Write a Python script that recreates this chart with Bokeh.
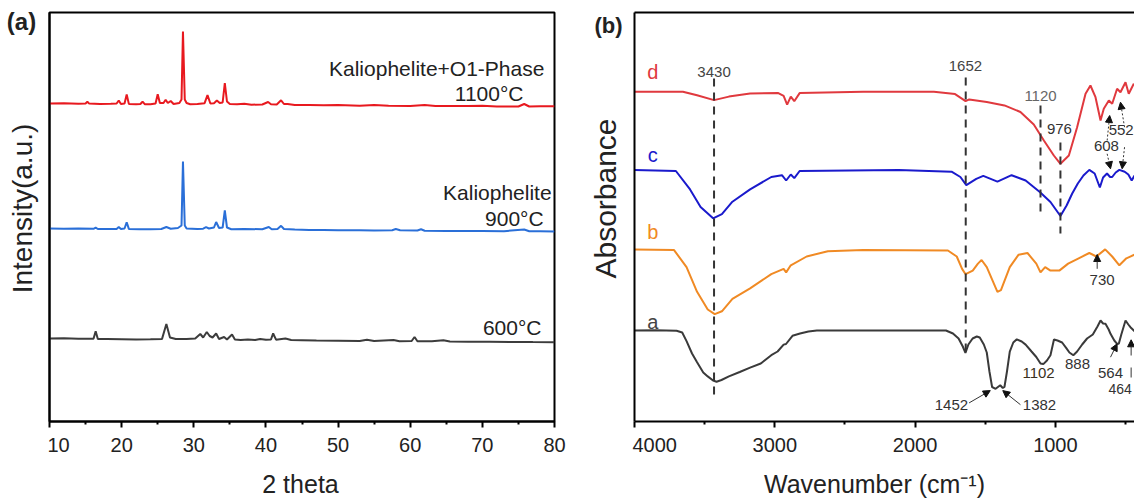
from bokeh.plotting import figure
from bokeh.layouts import row, column
from bokeh.models import Label, Arrow, NormalHead, FixedTicker, LinearAxis, Range1d
from bokeh.embed import file_html
from bokeh.resources import INLINE

# ---------------- data: panel (a) XRD ----------------
xrd_2theta_1100 = [10.0, 12.0, 14.0, 15.0, 15.25, 15.5, 17.0, 18.5, 19.3, 19.6, 19.9, 20.4, 20.7, 21.0, 22.0, 22.6,
                   22.9, 23.2, 24.0, 24.7, 25.0, 25.3, 25.8, 26.1, 26.4, 26.8, 27.2, 28.0, 28.3, 28.5, 28.75, 29.0,
                   29.5, 30.5, 31.5, 31.9, 32.3, 32.8, 33.2, 33.6, 34.0, 34.3, 34.6, 35.0, 36.0, 37.0, 38.0, 39.5,
                   40.3, 40.7, 41.5, 42.1, 42.5, 43.0, 44.0, 46.0, 48.0, 50.0, 53.0, 55.0, 57.0, 60.0, 62.0, 63.5,
                   66.0, 68.0, 70.0, 72.0, 75.0, 75.8, 76.5, 78.0, 80.0]
xrd_int_1100 = [318, 318.3, 317.8, 318, 319.7, 317.9, 317.5, 317.8, 318, 321, 317.5, 318, 327, 317.6, 317.3, 317.5,
                319.8, 317.3, 317.2, 318, 327.2, 318.5, 318.5, 321.7, 318.5, 320.5, 317.5, 318.5, 322, 390, 322, 318.5,
                317.3, 317.5, 318.3, 326.3, 318, 318.3, 321, 318.5, 319, 338.5, 320, 317.5, 317.3, 317.8, 316.8, 317,
                319.5, 317.3, 317, 321.2, 317.5, 317.6, 316.5, 316.6, 316.2, 316.4, 315.7, 316.6, 315.8, 315.6, 316.4, 315.6,
                315.5, 315.4, 315.8, 315.1, 315, 317.5, 315, 315.2, 315.3]

xrd_2theta_900 = [10, 12, 14, 16.1, 16.4, 16.7, 18.5, 19.3, 19.6, 19.9, 20.4, 20.7, 21.0, 22.5, 24, 25.5, 26.2, 26.8,
                  27.8, 28.3, 28.5, 28.75, 29.0, 30.5, 31.3, 31.7, 32.1, 32.8, 33.1, 33.5, 34.0, 34.3, 34.6, 35.2, 37,
                  39.5, 40.4, 40.8, 41.6, 42.1, 42.5, 44, 46, 48, 50, 53, 55, 57.5, 58, 58.6, 61.0, 61.5, 62.0, 65, 68,
                  70, 73, 75.8, 76.5, 78, 80]
xrd_int_900 = [193, 192.8, 193, 192.7, 193.8, 192.5, 192.6, 192.6, 194.5, 192.5, 193, 199.3, 192.6, 192.3, 192.3, 192.5,
               194.5, 192.8, 193.5, 196, 260, 196, 193, 192.5, 192.8, 194.3, 193, 194, 199.5, 193.5, 194, 211, 194, 192.3,
               192.5, 192.3, 194.5, 192.2, 192.5, 195.7, 192.5, 192, 191.6, 191.6, 191.3, 191.2, 191, 191.3, 192.5,
               191.2, 191, 192.2, 190.8, 190.6, 190.4, 190.5, 190.3, 192, 190.2, 190.2, 190]

xrd_2theta_600 = [10, 12, 14, 16.1, 16.4, 16.7, 18, 20, 22, 24, 25.6, 26.2, 26.7, 27.5, 29, 30.2, 30.9, 31.3, 31.8,
                  32.2, 32.6, 33.1, 33.5, 34.2, 34.6, 35.3, 35.7, 36.5, 37.5, 38.5, 39.2, 40.0, 40.7, 41.0, 41.4, 42.7,
                  43.5, 45, 47, 50, 53, 54, 55, 57.7, 58.5, 60.2, 60.6, 61, 63, 64.6, 65.5, 68, 71, 74, 77, 80]
xrd_int_600 = [83, 83.2, 82.8, 82.7, 90.3, 82.6, 82.5, 82.3, 82.1, 82.3, 82.6, 97.5, 84, 82.5, 82.6, 83, 87.5, 84, 89.5,
               85.5, 84, 88, 82.5, 84.5, 82, 87, 82, 81.5, 82, 81.5, 82.5, 81.8, 82, 88.2, 81.8, 83,
               81.5, 81.3, 81, 80.8, 80.6, 81.8, 80.4, 81.5, 80.3, 80.5, 84.5, 80.3, 80.2, 81.2, 80, 79.8, 79.7, 79.6, 79.4, 79.3]

xrd_ticks = [10, 20, 30, 40, 50, 60, 70, 80]
xrd_minor = [15, 25, 35, 45, 55, 65, 75]

# ---------------- data: panel (b) FTIR ----------------
wn_d = [4000, 3655, 3554, 3433, 3327, 3176, 2975, 2937, 2912, 2886, 2861, 2823, 2370, 1866, 1715, 1640, 1614, 1489,
        1363, 1249, 1154, 1082, 1011, 964, 904, 845, 785, 750, 714, 678, 655, 619, 595, 560, 536, 500, 477, 441, 436]
abs_d = [329.8, 329.8, 326.3, 321.4, 324.9, 328.1, 328.4, 325.6, 316.8, 324.9, 320.3, 328.4, 329.8, 329.8, 327.4, 320.3,
         322.1, 319.6, 316.1, 309.5, 297, 281, 266, 257.7, 266, 294.3, 327.7, 336, 324.3, 301, 312.7, 321, 317.7,
         332.7, 329.3, 339.3, 327.7, 337.7, 336]

wn_c = [4000, 3705, 3604, 3529, 3440, 3377, 3302, 3176, 3025, 2949, 2919, 2886, 2861, 2823, 2118, 1740, 1677, 1635,
        1564, 1514, 1413, 1312, 1212, 1111, 1035, 964, 920, 880, 840, 800, 758, 720, 683, 660, 632, 610, 595, 570,
        544, 506, 480, 456, 436]
abs_c = [251.6, 250.5, 232.1, 214.5, 203.2, 207.4, 219.8, 232.1, 244.5, 246.3, 241, 247, 243.4, 250.5, 251.6, 249.8,
         244.5, 236.4, 242.7, 245.6, 239.9, 246.3, 241, 229.5, 219.5, 205.5, 216, 228, 238, 246, 251.6, 248, 234, 244,
         248, 244.5, 244.5, 249, 251.6, 249.8, 247, 241, 246]

wn_b = [4000, 3718, 3629, 3554, 3478, 3428, 3377, 3302, 3176, 3025, 2937, 2919, 2886, 2773, 2622, 2370, 1766, 1703,
        1665, 1640, 1589, 1552, 1526, 1489, 1413, 1388, 1325, 1262, 1199, 1136, 1106, 1073, 1035, 972, 909, 834, 758,
        708, 645, 595, 544, 494, 436]
abs_b = [172.1, 171.4, 154.4, 129.7, 112, 107.4, 110.2, 122.6, 133.2, 147.3, 152.6, 149.1, 156.2, 165, 170.3, 171.4,
         171, 165, 152.6, 147.3, 150.9, 157.9, 161.5, 154.4, 129.7, 131.4, 154.4, 166.8, 168.5, 157.9, 149.1, 154.4,
         150.9, 150.9, 157.9, 163.2, 168.5, 165, 172.1, 165, 156.2, 163.2, 166.8]

wn_a = [4000, 3850, 3700, 3660, 3629, 3590, 3554, 3510, 3478, 3440, 3415, 3380, 3327, 3250, 3176, 3100, 3025, 2980,
        2937, 2920, 2874, 2820, 2760, 2700, 2500, 1780, 1730, 1690, 1660, 1641, 1620, 1590, 1560, 1539, 1510, 1489,
        1470, 1451, 1426, 1400, 1393, 1375, 1363, 1345, 1325, 1300, 1275, 1240, 1212, 1170, 1136, 1106, 1086, 1060,
        1035, 1010, 985, 952, 922, 900, 872, 845, 809, 774, 733, 700, 678, 660, 643, 620, 607, 580, 560, 548, 530,
        500, 480, 465, 441, 436]
abs_a = [91, 91.3, 90.8, 89, 80.4, 68, 59.2, 49, 45.1, 41, 39.8, 41.5, 45.1, 49.5, 53.9, 58, 66.3, 70, 76.9, 77.5,
         85.7, 88, 90, 91, 91, 91, 88, 83, 75, 68.6, 77, 83, 85, 84, 77, 69, 50, 34.5, 32.7, 35.5, 36.2, 33.5, 34.5,
         50, 69.8, 79, 82.2, 80, 76.9, 70, 64.5, 58, 57.4, 61, 66.3, 82, 81, 79, 73.3, 69, 66.3, 70, 77, 83, 87, 95,
         101, 98, 97.7, 92, 87.7, 81, 77.7, 77.7, 87, 101, 97, 94.3, 91, 90]

ftir_ticks = [4000, 3000, 2000, 1000]
ftir_minor = [3500, 2500, 1500, 500]

FONT = "Liberation Sans"
INK = "#222222"
H_TOP = 466      # height of the row holding the panels
H_BOT = 32       # height of the strip holding the x titles


def style_xaxis(ax, ticks, minor):
    ax.ticker = FixedTicker(ticks=ticks, minor_ticks=minor)
    ax.axis_line_width = 2
    ax.axis_line_color = "black"
    ax.major_tick_line_width = 2
    ax.major_tick_line_color = "black"
    ax.major_tick_out = 6
    ax.major_tick_in = 0
    ax.minor_tick_line_width = 2
    ax.minor_tick_line_color = "black"
    ax.minor_tick_out = 3
    ax.minor_tick_in = 0
    ax.major_label_text_font = FONT
    ax.major_label_text_font_size = "20px"
    ax.major_label_text_color = INK
    ax.major_label_standoff = 10


def blank_axis(ax):
    ax.ticker = FixedTicker(ticks=[])
    ax.major_label_text_font_size = "0px"
    ax.axis_line_width = 2
    ax.axis_line_color = "black"
    ax.major_tick_line_color = None
    ax.minor_tick_line_color = None


def txt(p, x, y, s, size="15px", color=INK, align="center", baseline="middle", style="normal", angle=0.0, font=FONT):
    p.add_layout(Label(x=x, y=y, text=s, text_font=font, text_font_size=size, text_color=color,
                       text_align=align, text_baseline=baseline, text_font_style=style, angle=angle))


def strip(x0, x1, h):
    s = figure(width=x1 - x0, height=h, x_range=Range1d(x0, x1), y_range=Range1d(0, h),
               x_axis_type=None, y_axis_type=None, output_backend="svg", toolbar_location=None,
               min_border=0, frame_align=False)
    s.outline_line_color = None
    s.xgrid.visible = False
    s.ygrid.visible = False
    return s


# ---------------- left strip: (a) + y title ----------------
la = strip(0, 47, H_TOP)
txt(la, 21, H_TOP - 21, "(a)", size="24px", style="bold")
txt(la, 22, H_TOP - 208, "Intensity(a.u.)", size="28px", angle=1.5708)

# ---------------- panel (a) ----------------
p1 = figure(width=528, height=H_TOP, x_range=Range1d(10, 80), y_range=Range1d(0, 409),
            output_backend="svg", toolbar_location=None,
            min_border_left=2, min_border_right=21, min_border_top=12, min_border_bottom=H_TOP - 421)
p1.xgrid.visible = False
p1.ygrid.visible = False
p1.outline_line_color = "black"
p1.outline_line_width = 2
style_xaxis(p1.xaxis[0], xrd_ticks, xrd_minor)
blank_axis(p1.yaxis[0])

p1.line(xrd_2theta_600, xrd_int_600, line_color="#3c3c3c", line_width=2)
p1.line(xrd_2theta_900, xrd_int_900, line_color="#2a6fd8", line_width=2)
p1.line(xrd_2theta_1100, xrd_int_1100, line_color="#e8191f", line_width=2)

txt(p1, 78.6, 353, "Kaliophelite+O1-Phase", size="21px", align="right")
txt(p1, 75.7, 328, "1100°C", size="21px", align="right")
txt(p1, 79.6, 229, "Kaliophelite", size="21px", align="right")
txt(p1, 78.5, 203, "900°C", size="21px", align="right")
txt(p1, 78.2, 94, "600°C", size="21px", align="right")

# ---------------- middle strip: (b) + y title ----------------
lb = strip(575, 632, H_TOP)
txt(lb, 608, H_TOP - 25, "(b)", size="22px", style="bold")
txt(lb, 605, H_TOP - 198, "Absorbance", size="30px", angle=1.5708)

# ---------------- panel (b) ----------------
p2 = figure(width=502, height=H_TOP, x_range=Range1d(4000, 436), y_range=Range1d(0, 409),
            output_backend="svg", toolbar_location=None,
            min_border_left=2, min_border_right=0, min_border_top=12, min_border_bottom=H_TOP - 421)
p2.xgrid.visible = False
p2.ygrid.visible = False
p2.outline_line_color = None
style_xaxis(p2.xaxis[0], ftir_ticks, ftir_minor)
blank_axis(p2.yaxis[0])
top_ax = LinearAxis()
blank_axis(top_ax)
p2.add_layout(top_ax, "above")

p2.line(wn_a, abs_a, line_color="#3a3a3a", line_width=2)
p2.line(wn_b, abs_b, line_color="#f08a24", line_width=2)
p2.line(wn_c, abs_c, line_color="#1a1acc", line_width=2)
p2.line(wn_d, abs_d, line_color="#e0393e", line_width=2)

# dashed guide lines
p2.segment(x0=[3433, 1639, 1106, 964], y0=[343, 344, 316, 279],
           x1=[3433, 1639, 1106, 964], y1=[22, 66, 207, 188],
           line_color="#333333", line_width=2, line_dash="8 6")
p2.segment(x0=[460], y0=[54], x1=[460], y1=[44], line_color="#333333", line_width=1)

# curve letters
txt(p2, 3870, 350, "d", size="20px", color="#e0393e")
txt(p2, 3870, 267, "c", size="20px", color="#1a1acc")
txt(p2, 3870, 190, "b", size="20px", color="#f08a24")
txt(p2, 3870, 100, "a", size="20px", color="#444444")

# band labels
txt(p2, 3433, 350, "3430", color="#444444")
txt(p2, 1641, 355.6, "1652", color="#444444")
txt(p2, 1106, 326, "1120", color="#666666")
txt(p2, 971, 293, "976", color="#333333")
txt(p2, 636, 276, "608", color="#333333")
txt(p2, 620, 292, "552", color="#333333", align="left")
txt(p2, 667, 142, "730", color="#333333")
txt(p2, 1741, 17, "1452", color="#333333")
txt(p2, 1113, 17, "1382", color="#333333")
txt(p2, 1120, 49, "1102", color="#3a3020")
txt(p2, 842, 58, "888", color="#333333")
txt(p2, 607, 49, "564", color="#333333")
txt(p2, 622, 33, "464", size="14px", color="#333333", align="left")


def arrow(x0, y0, x1, y1, dash="solid", width=1.0):
    p2.add_layout(Arrow(end=NormalHead(size=7, fill_color="#111111", line_color="#111111"),
                        x_start=x0, y_start=y0, x_end=x1, y_end=y1,
                        line_color="#333333", line_width=width, line_dash=dash))


arrow(631, 281, 613, 306, dash="2 2")
arrow(631, 267.7, 607, 252.7, dash="2 2")
arrow(507, 294.3, 536, 319.3, dash="2 2")
arrow(507, 274.3, 524, 252.7, dash="2 2")
arrow(702, 152.7, 702, 167)
arrow(1615, 18.6, 1464, 30.9)
arrow(1249, 16.8, 1375, 30.9)
arrow(607, 64.3, 560, 77.7)
arrow(460, 66, 460, 81.7)

# ---------------- bottom strip: x titles ----------------
bt = strip(0, 1134, H_BOT)
txt(bt, 300, H_BOT - 17, "2 theta", size="25px")
txt(bt, 874, H_BOT - 17, "Wavenumber (cm\u207b\u00b9)", size="25px")

layout = column(row(la, p1, lb, p2), bt)
open("out.html", "w").write(file_html(layout, INLINE))
